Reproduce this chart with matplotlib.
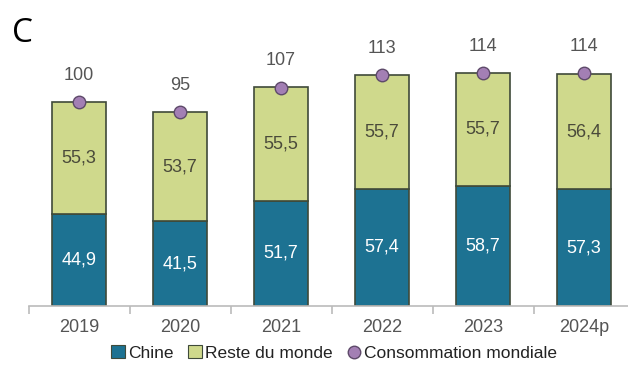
import matplotlib.pyplot as plt
import numpy as np
from matplotlib.lines import Line2D
from matplotlib.patches import Patch

years = ["2019", "2020", "2021", "2022", "2023", "2024p"]
chine = [44.9, 41.5, 51.7, 57.4, 58.7, 57.3]
reste = [55.3, 53.7, 55.5, 55.7, 55.7, 56.4]
mondiale = [100, 95, 107, 113, 114, 114]

TEAL = "#1d7292"
GREEN = "#cfd98c"
PURPLE = "#a37fb4"
EDGE = "#3f4a3a"
GREY = "#555555"

plt.rcParams["font.family"] = ["Liberation Sans", "DejaVu Sans"]

fig = plt.figure(figsize=(6.28, 3.78), dpi=100)
ax = fig.add_axes([28.5 / 628, 72 / 378, 606 / 628, 306 / 378])

x = np.arange(len(years))
w = 0.53
ax.bar(x, chine, w, color=TEAL, edgecolor=EDGE, linewidth=1.2, zorder=2)
ax.bar(x, reste, w, bottom=chine, color=GREEN, edgecolor=EDGE, linewidth=1.2, zorder=2)
ax.plot(x, mondiale, "o", color=PURPLE, markeredgecolor="#5e4a6a",
        markersize=9, markeredgewidth=1, zorder=3)

for i in range(len(years)):
    ax.text(x[i], chine[i] / 2, f"{chine[i]:.1f}".replace(".", ","),
            ha="center", va="center", color="white", fontsize=13)
    ax.text(x[i], chine[i] + reste[i] / 2, f"{reste[i]:.1f}".replace(".", ","),
            ha="center", va="center", color="#4a4a3a", fontsize=13)
    ax.text(x[i], mondiale[i] + 9, str(mondiale[i]),
            ha="center", va="bottom", color=GREY, fontsize=13)

ax.set_xlim(-0.5, 5.5)
ax.set_ylim(0, 150)
ax.set_yticks([])
for s in ["top", "right", "left"]:
    ax.spines[s].set_visible(False)
ax.spines["bottom"].set_color("#bbbbbb")
ax.spines["bottom"].set_linewidth(1.2)

ax.set_xticks(x)
ax.set_xticklabels(years, fontsize=13, color=GREY)
ax.tick_params(axis="x", length=0, pad=9)
ax.set_xticks(np.arange(-0.5, 5.6, 1), minor=True)
ax.tick_params(axis="x", which="minor", length=6, color="#bbbbbb", width=1.2)

fig.text(12 / 628, 1 - 33 / 378, "C", fontsize=24, va="center", ha="left",
         family=["Open Sans", "DejaVu Sans"])

handles = [
    Patch(facecolor=TEAL, edgecolor=EDGE, linewidth=0.8),
    Patch(facecolor=GREEN, edgecolor=EDGE, linewidth=0.8),
    Line2D([], [], marker="o", linestyle="none", color=PURPLE,
           markeredgecolor="#5e4a6a", markersize=9),
]
fig.legend(handles, ["Chine", "Reste du monde", "Consommation mondiale"],
           loc="center", bbox_to_anchor=(334 / 628, 1 - 353 / 378), ncol=3,
           frameon=False, fontsize=12.5, handlelength=0.8, handleheight=0.8,
           handletextpad=0.2, columnspacing=0.8, labelcolor="#222222")

fig.savefig("out.png", dpi=100)
